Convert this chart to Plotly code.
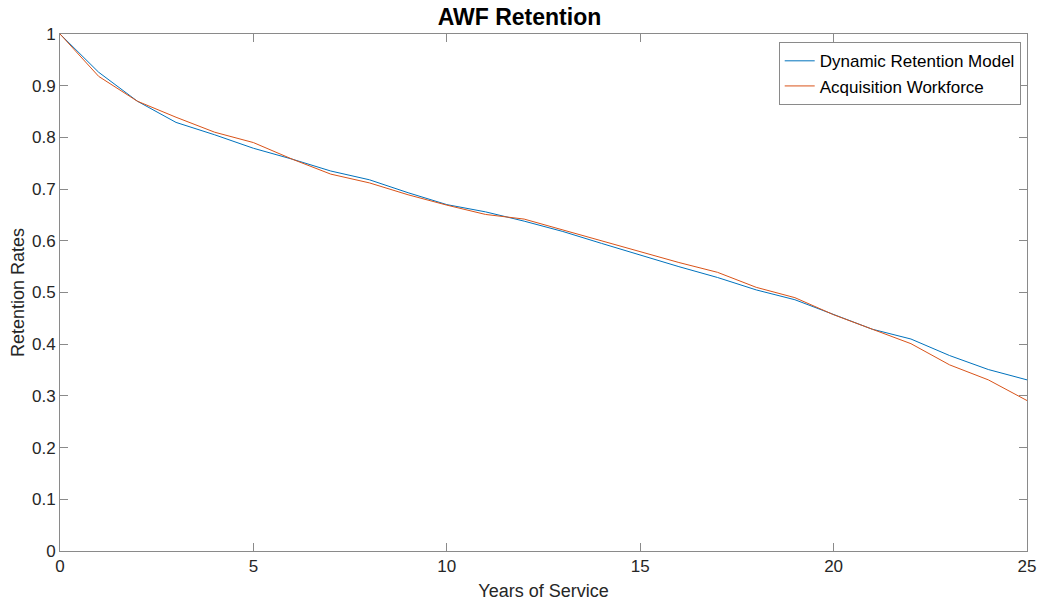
import plotly.graph_objects as go

years = list(range(0, 26))
dynamic_model = [1.0, 0.926, 0.870, 0.829, 0.805, 0.779, 0.758, 0.735, 0.718, 0.693, 0.670,
                 0.656, 0.638, 0.618, 0.595, 0.572, 0.550, 0.529, 0.505, 0.486, 0.457,
                 0.429, 0.410, 0.378, 0.351, 0.331]
acq_workforce = [1.0, 0.918, 0.870, 0.839, 0.810, 0.790, 0.758, 0.729, 0.712, 0.689, 0.669,
                 0.651, 0.642, 0.621, 0.600, 0.579, 0.558, 0.539, 0.510, 0.490, 0.457,
                 0.429, 0.401, 0.360, 0.331, 0.291]
x_ticks = [0, 5, 10, 15, 20, 25]
y_ticks = [0, 0.1, 0.2, 0.3, 0.4, 0.5, 0.6, 0.7, 0.8, 0.9, 1]

font_family = "Liberation Sans, Arial, sans-serif"
axis_color = "#8a8a8a"
text_color = "#262626"

fig = go.Figure()
fig.add_trace(go.Scatter(x=years, y=dynamic_model, mode="lines",
                         name="Dynamic Retention Model",
                         line=dict(color="#0072BD", width=1)))
fig.add_trace(go.Scatter(x=years, y=acq_workforce, mode="lines",
                         name="Acquisition Workforce",
                         line=dict(color="#D95319", width=1)))

axis_common = dict(showline=True, linecolor=axis_color, linewidth=1, mirror="ticks",
                   ticks="inside", ticklen=8, tickcolor=axis_color, showgrid=False,
                   zeroline=False, automargin=False,
                   tickfont=dict(size=17, color=text_color, family=font_family))

fig.update_layout(
    width=1039, height=601,
    margin=dict(l=60, r=12, t=34, b=50),
    paper_bgcolor="white", plot_bgcolor="white",
    title=dict(text="<b>AWF Retention</b>", x=0.5, xanchor="center",
               y=1 - 17 / 601, yanchor="middle",
               font=dict(size=23, color="#000000", family=font_family)),
    xaxis=dict(range=[0, 25], tickvals=x_ticks, ticktext=[str(v) for v in x_ticks],
               title=dict(text="Years of Service", standoff=8,
                          font=dict(size=18, color=text_color, family=font_family)),
               **axis_common),
    yaxis=dict(range=[0, 1], tickvals=y_ticks, ticktext=[("%g" % v) for v in y_ticks],
               title=dict(text="Retention Rates", standoff=2,
                          font=dict(size=18, color=text_color, family=font_family)),
               **axis_common),
    legend=dict(x=0.9935, y=0.984, xanchor="right", yanchor="top",
                bgcolor="white", bordercolor=axis_color, borderwidth=1,
                font=dict(size=17, color="#000000", family=font_family),
                tracegroupgap=0, itemwidth=30),
    showlegend=True,
)

fig.write_html("out.html", config={"displayModeBar": False},
               post_script="document.body.style.margin='0';document.body.style.padding='0';")
